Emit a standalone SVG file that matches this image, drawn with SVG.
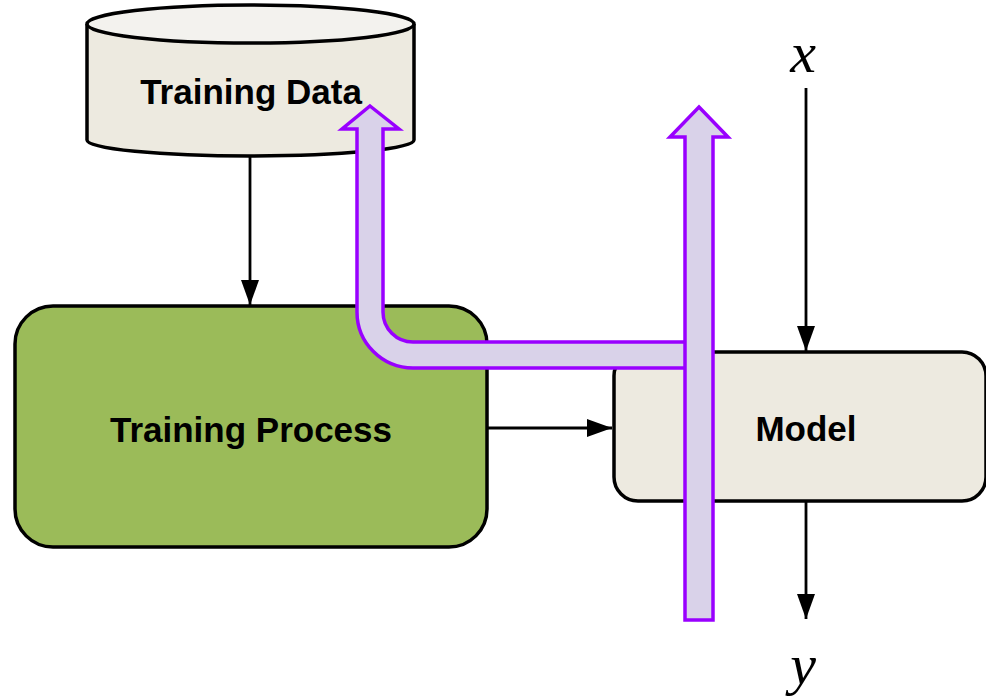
<svg xmlns="http://www.w3.org/2000/svg" width="986" height="700" viewBox="0 0 986 700">
<defs>
<style>
.node{stroke:#000;stroke-width:3.5}
.lbl{font-family:"Liberation Sans",Arial,sans-serif;font-weight:bold;font-size:35px;fill:#000;text-anchor:middle}
.math{font-family:"Liberation Serif","Times New Roman",serif;font-style:italic;font-size:58px;fill:#000;text-anchor:middle}
.conn{stroke:#000;stroke-width:2.8;fill:none}
.big{fill:#D9D2E9;stroke:#9900FF;stroke-width:3.5;stroke-linejoin:miter}
</style>
<marker id="ah2" viewBox="0 0 25 18" refX="25" refY="9" markerWidth="25" markerHeight="18" markerUnits="userSpaceOnUse" orient="auto">
<path d="M0 0 L25 9 L0 18 Z" fill="#000"/>
</marker>
</defs>
<rect width="986" height="700" fill="#fff"/>
<g id="training-data">
<path class="node" d="M87 24 L87 140 A163.5 16 0 0 0 414 140 L414 24" fill="#EDEAE0"/>
<ellipse class="node" cx="250.5" cy="24" rx="163.5" ry="19" fill="#F3F2EE"/>
<text class="lbl" x="251" y="104">Training Data</text>
</g>
<g id="training-process">
<rect class="node" x="15" y="306" width="472" height="241" rx="38" fill="#9BBB59"/>
<text class="lbl" x="251" y="442">Training Process</text>
</g>
<g id="model">
<rect class="node" x="614" y="352" width="372" height="149" rx="24" fill="#EDEAE0"/>
<text class="lbl" x="806" y="441">Model</text>
</g>
<g id="connectors">
<line class="conn" x1="250" y1="157" x2="250" y2="305" marker-end="url(#ah2)"/>
<line class="conn" x1="488" y1="428" x2="612" y2="428" marker-end="url(#ah2)"/>
<line class="conn" x1="806" y1="88" x2="806" y2="351" marker-end="url(#ah2)"/>
<line class="conn" x1="806" y1="502" x2="806" y2="619" marker-end="url(#ah2)"/>
<path class="big" d="M370 106 L399 129 L383 129 L383 312 A30 30 0 0 0 413 342 L699 342 L699 368 L413 368 A56 56 0 0 1 357 312 L357 129 L342 129 Z"/>
<path class="big" d="M699 107 L728 137 L713 137 L713 620 L685 620 L685 137 L670 137 Z"/>
</g>
<g id="x-label"><text class="math" x="803" y="72">x</text></g>
<g id="y-label"><text class="math" x="803" y="684">y</text></g>
</svg>
